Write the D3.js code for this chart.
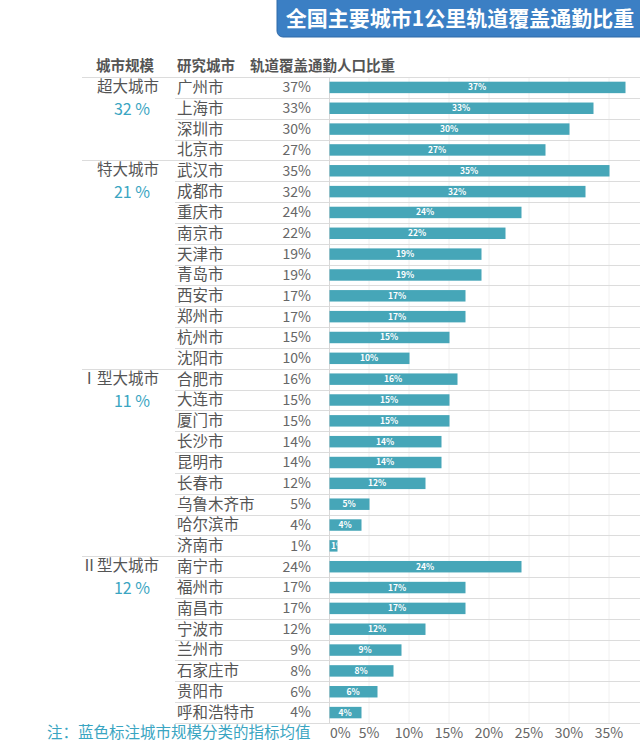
<!DOCTYPE html>
<html><head><meta charset="utf-8">
<script src="https://cdn.jsdelivr.net/npm/d3@7"></script>
<style>body{margin:0;background:#fff;} svg{display:block;font-family:"Noto Sans CJK SC","Noto Sans",sans-serif;}</style>
</head><body>
<script>
const title = "全国主要城市1公里轨道覆盖通勤比重";
const headers = ["城市规模", "研究城市", "轨道覆盖通勤人口比重"];
const groupNames = ["超大城市", "特大城市", "Ⅰ型大城市", "Ⅱ型大城市"];
const groupMeans = [32, 21, 11, 12];
const groupSizes = [4, 10, 9, 8];
const cities = ["广州市","上海市","深圳市","北京市",
  "武汉市","成都市","重庆市","南京市","天津市","青岛市","西安市","郑州市","杭州市","沈阳市",
  "合肥市","大连市","厦门市","长沙市","昆明市","长春市","乌鲁木齐市","哈尔滨市","济南市",
  "南宁市","福州市","南昌市","宁波市","兰州市","石家庄市","贵阳市","呼和浩特市"];
const values = [37,33,30,27, 35,32,24,22,19,19,17,17,15,10, 16,15,15,14,14,12,5,4,1, 24,17,17,12,9,8,6,4];
const ticks = [0,5,10,15,20,25,30,35];
const note = "注：蓝色标注城市规模分类的指标均值";

const W = 640, H = 743;
const svg = d3.select("body").append("svg").attr("width", W).attr("height", H);
const barColor = "#46a6b8", teal = "#3aa5c2", textCol = "#555";

// title banner
svg.append("rect").attr("x", 277).attr("y", -8).attr("width", 375).attr("height", 45).attr("rx", 6)
  .attr("fill", "#3b7fc4").attr("stroke", "#2f6aa8").attr("stroke-width", 1);
svg.append("text").attr("x", 460).attr("y", 26).attr("text-anchor", "middle")
  .attr("fill", "#fff").attr("font-size", 21).attr("font-weight", "bold").text(title);

// headers
const hy = 71;
svg.append("text").attr("x", 125).attr("y", hy).attr("text-anchor", "middle").attr("font-size", 14.5).attr("font-weight", "bold").attr("fill", textCol).text(headers[0]);
svg.append("text").attr("x", 177).attr("y", hy).attr("font-size", 14.5).attr("font-weight", "bold").attr("fill", textCol).text(headers[1]);
svg.append("text").attr("x", 250).attr("y", hy).attr("font-size", 14.5).attr("font-weight", "bold").attr("fill", textCol).text(headers[2]);

const y = d3.scaleBand().domain(cities).range([77, 723]).paddingInner(0.45).paddingOuter(0.225);
const step = y.step();
const x = d3.scaleLinear().domain([0, 35]).range([329, 609]);

// vertical grid
svg.append("g").selectAll("line").data(ticks.slice(1)).join("line")
  .attr("x1", d => x(d)).attr("x2", d => x(d)).attr("y1", 77).attr("y2", 723)
  .attr("stroke", "#f0f0f0").attr("stroke-width", 1);

// row separators
const groupStart = [];
let acc = 0; groupSizes.forEach(s => { groupStart.push(acc); acc += s; });
const sepG = svg.append("g");
cities.forEach((c, i) => {
  const yy = Math.round(77 + step * (i + 1)) + 0.5;
  const isGroupEnd = groupStart.includes(i + 1);
  sepG.append("line").attr("x1", isGroupEnd ? 82 : 175).attr("x2", 640).attr("y1", yy).attr("y2", yy)
    .attr("stroke", "#dcdcdc").attr("stroke-width", 1);
});
sepG.append("line").attr("x1", 82).attr("x2", 640).attr("y1", 77.5).attr("y2", 77.5).attr("stroke", "#dcdcdc");
// axis line
svg.append("line").attr("x1", 329.5).attr("x2", 329.5).attr("y1", 77).attr("y2", 723).attr("stroke", "#d8d8d8");

// group labels
groupNames.forEach((g, gi) => {
  const c0 = cities[groupStart[gi]], c1 = cities[groupStart[gi] + 1];
  svg.append("text").attr("x", 159).attr("y", y(c0) + y.bandwidth() / 2 - 1).attr("dy", "0.35em")
    .attr("text-anchor", "end").attr("font-size", 15.5).attr("fill", textCol).text(g);
  svg.append("text").attr("x", 132).attr("y", y(c1) + y.bandwidth() / 2 + 1).attr("dy", "0.35em")
    .attr("text-anchor", "middle").attr("font-size", 16).attr("fill", teal).text(groupMeans[gi] + " %");
});

// city names & values
const rows = svg.append("g").selectAll("g").data(cities).join("g");
rows.append("text").attr("x", 177).attr("y", d => y(d) + y.bandwidth() / 2).attr("dy", "0.35em")
  .attr("font-size", 15.5).attr("fill", textCol).text(d => d);
rows.append("text").attr("x", 311).attr("y", d => y(d) + y.bandwidth() / 2).attr("dy", "0.35em")
  .attr("text-anchor", "end").attr("font-size", 14).attr("fill", "#666").text((d, i) => values[i] + "%");

// bars
const defs = svg.append("defs");
cities.forEach((c, i) => {
  defs.append("clipPath").attr("id", "cp" + i).append("rect")
    .attr("x", x(0) + 0.5).attr("y", y(c)).attr("width", x(values[i]) - x(0)).attr("height", y.bandwidth());
});
const bars = svg.append("g");
bars.selectAll("rect").data(cities).join("rect")
  .attr("x", x(0) + 0.5).attr("y", d => y(d)).attr("width", (d, i) => x(values[i]) - x(0)).attr("height", y.bandwidth())
  .attr("fill", barColor);
bars.selectAll("text").data(cities).join("text")
  .attr("clip-path", (d, i) => `url(#cp${i})`)
  .attr("x", (d, i) => values[i] < 3 ? x(0) + 2 : (x(0) + x(values[i])) / 2)
  .attr("text-anchor", (d, i) => values[i] < 3 ? "start" : "middle")
  .attr("y", d => y(d) + y.bandwidth() / 2).attr("dy", "0.35em")
  .attr("font-size", 8.5).attr("font-weight", "bold").attr("fill", "#fff")
  .text((d, i) => values[i] + "%");

// x tick labels
svg.append("g").selectAll("text").data(ticks).join("text")
  .attr("x", d => d === 0 ? x(0) + 1 : x(d)).attr("y", 738)
  .attr("text-anchor", d => d === 0 ? "start" : "middle")
  .attr("font-size", 14).attr("fill", "#666").text(d => d + "%");

// note
svg.append("text").attr("x", 47).attr("y", 738).attr("font-size", 15.5).attr("fill", teal).text(note);
</script>
</body></html>
